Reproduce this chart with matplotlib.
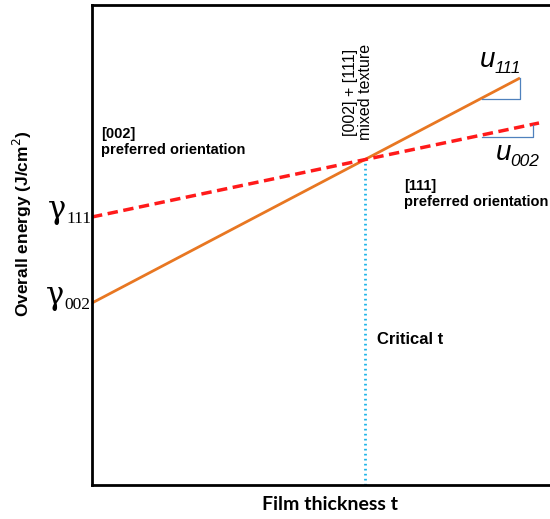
import matplotlib
matplotlib.use("Agg")
import matplotlib.pyplot as plt
import numpy as np

# Data (arbitrary units: thickness vs energy)
thickness_end_111 = [0, 428]
energy_111_line = [182, 407]      # orange: gamma_002 + u111*t
thickness_end_002 = [0, 447]
energy_002_line = [268, 362]      # red dashed: gamma_111 + u002*t
slope_tri_111_x = [390, 428, 428]
slope_tri_111_y = [386, 386, 407]
slope_tri_002_x = [390, 441, 441]
slope_tri_002_y = [348, 348, 360]

# critical thickness (intersection)
s_o = (energy_111_line[1] - energy_111_line[0]) / (thickness_end_111[1] - thickness_end_111[0])
s_r = (energy_002_line[1] - energy_002_line[0]) / (thickness_end_002[1] - thickness_end_002[0])
critical_t = (energy_002_line[0] - energy_111_line[0]) / (s_o - s_r)
critical_e = energy_111_line[0] + s_o * critical_t

W, H = 550, 519
fig = plt.figure(figsize=(W / 100, H / 100), dpi=100)
ax = fig.add_axes([92 / W, 1 - 485 / H, 1 - 92 / W, (485 - 4.5) / H])
ax.set_xlim(0, 458)
ax.set_ylim(0, 480.5)
ax.set_xticks([])
ax.set_yticks([])
for s in ['left', 'bottom', 'top']:
    ax.spines[s].set_linewidth(2)
    ax.spines[s].set_color('black')
ax.spines['right'].set_visible(False)

ax.plot(thickness_end_111, energy_111_line, color='#E87722', lw=2, solid_capstyle='butt')
ax.plot(thickness_end_002, energy_002_line, color='#FF1A1A', lw=2.5, ls=(0, (3, 1.6)))
ax.plot([critical_t, critical_t], [0, critical_e], color='#1EB4E8', lw=2, ls=(0, (0.6, 1.2)))
ax.plot(slope_tri_111_x, slope_tri_111_y, color='#4F81BD', lw=0.9)
ax.plot(slope_tri_002_x, slope_tri_002_y, color='#4F81BD', lw=0.9)


def px(xp, yp):
    return (xp / W, 1 - yp / H)

serif = 'Liberation Serif'
# gamma labels: symbol + subscript
fig.text(*px(48, 218), 'γ', fontsize=22, family='DejaVu Serif', ha='left', va='baseline')
fig.text(*px(66, 223), '111', fontsize=12.5, family=serif, ha='left', va='baseline')
fig.text(*px(46, 304), 'γ', fontsize=22, family='DejaVu Serif', ha='left', va='baseline')
fig.text(*px(64, 309), '002', fontsize=12.5, family=serif, ha='left', va='baseline')

usans = 'Liberation Sans'
fig.text(*px(480, 67), 'u', fontsize=20, family=usans, style='italic', ha='left', va='baseline')
fig.text(*px(495, 73), '111', fontsize=12.5, family=usans, style='italic', ha='left', va='baseline')
fig.text(*px(496, 160), 'u', fontsize=20, family=usans, style='italic', ha='left', va='baseline')
fig.text(*px(510, 166), '002', fontsize=12.5, family=usans, style='italic', ha='left', va='baseline')

sans = 'Liberation Sans'
fig.text(*px(101, 142), '[002]\npreferred orientation', fontsize=10.5, fontweight='bold',
         family=sans, ha='left', va='center', linespacing=1.25)
fig.text(*px(404, 194), '[111]\npreferred orientation', fontsize=10.5, fontweight='bold',
         family=sans, ha='left', va='center', linespacing=1.25)
fig.text(*px(358, 92), '[002] + [111]\nmixed texture', fontsize=11.5, family=sans,
         rotation=90, ha='center', va='center', linespacing=1.05)
fig.text(*px(377, 340), 'Critical t', fontsize=12, fontweight='bold', family=sans,
         ha='left', va='center')
fig.text(*px(330, 505), 'Film thickness t', fontsize=14, fontweight='bold', family='Lato',
         ha='center', va='center')
fig.text(*px(22, 224), 'Overall energy (J/cm$^2$)', fontsize=12.5, fontweight='bold', family=sans,
         rotation=90, ha='center', va='center', math_fontfamily='dejavusans')

fig.savefig('out.png', dpi=100)
